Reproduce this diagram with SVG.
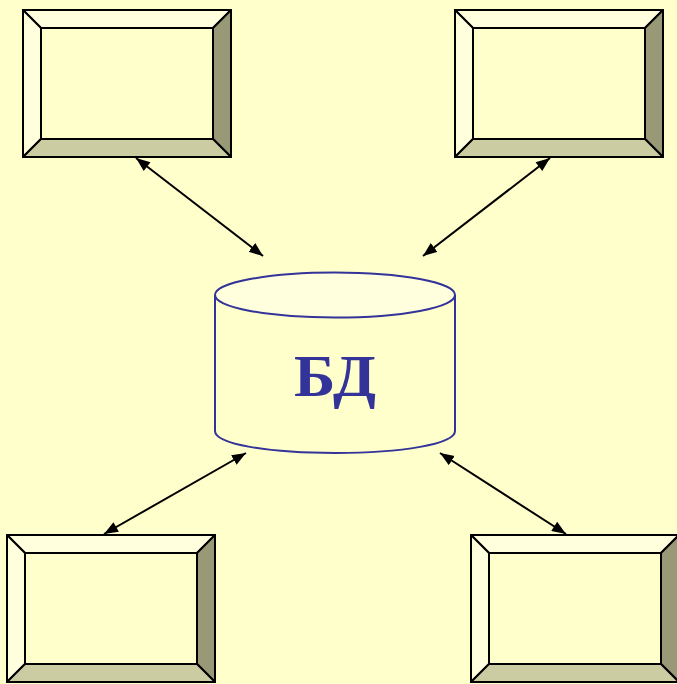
<svg xmlns="http://www.w3.org/2000/svg" width="677" height="684" viewBox="0 0 677 684">
<style>
.e{stroke:#000;stroke-width:2;stroke-linejoin:round}
.l{fill:#FFFFDD}.d{fill:#999977}.b{fill:#CCCCA3}.c{fill:#FFFFCC}
.cy{stroke:#333399;stroke-width:2;fill:#FFFFCC}
.k{stroke:#000;stroke-width:2;fill:none;marker-start:url(#s);marker-end:url(#a)}
</style>
<defs>
<marker id="a" markerUnits="userSpaceOnUse" markerWidth="16" markerHeight="12" refX="14" refY="5.5" orient="auto"><path d="M0 0L14 5.5L0 11Z" fill="#000"/></marker>
<marker id="s" markerUnits="userSpaceOnUse" markerWidth="16" markerHeight="12" refX="0" refY="5.5" orient="auto"><path d="M14 0L0 5.5L14 11Z" fill="#000"/></marker>
<g id="box">
<path class="e l" d="M0 0H208L190 18H18Z"/>
<path class="e l" d="M0 0L18 18V129L0 147Z"/>
<path class="e d" d="M208 0V147L190 129V18Z"/>
<path class="e b" d="M0 147L18 129H190L208 147Z"/>
<rect class="e c" x="18" y="18" width="172" height="111"/>
<rect class="e" x="0" y="0" width="208" height="147" fill="none" style="stroke-linejoin:miter"/>
</g>
</defs>
<rect width="677" height="684" fill="#FFFFCC"/>
<g id="connectors">
<line class="k" x1="136" y1="158" x2="263" y2="256"/>
<line class="k" x1="550" y1="158" x2="423" y2="256"/>
<line class="k" x1="104" y1="534" x2="246" y2="453"/>
<line class="k" x1="566" y1="534" x2="440" y2="453"/>
</g>
<g id="node-top-left"><use href="#box" x="23" y="10"/></g>
<g id="node-top-right"><use href="#box" x="455" y="10"/></g>
<g id="node-bottom-left"><use href="#box" x="7" y="535"/></g>
<g id="node-bottom-right"><use href="#box" x="471" y="535"/></g>
<g id="node-db">
<path class="cy" d="M215 295V431C215 444 268 453 335 453C402 453 455 444 455 431V295"/>
<ellipse class="cy" cx="335" cy="295" rx="120" ry="22.5" style="fill:#FFFFDD"/>
<text x="294" y="396" textLength="82" lengthAdjust="spacingAndGlyphs" font-family="'Liberation Serif',serif" font-weight="bold" font-size="60" fill="#333399">БД</text>
</g>
</svg>
